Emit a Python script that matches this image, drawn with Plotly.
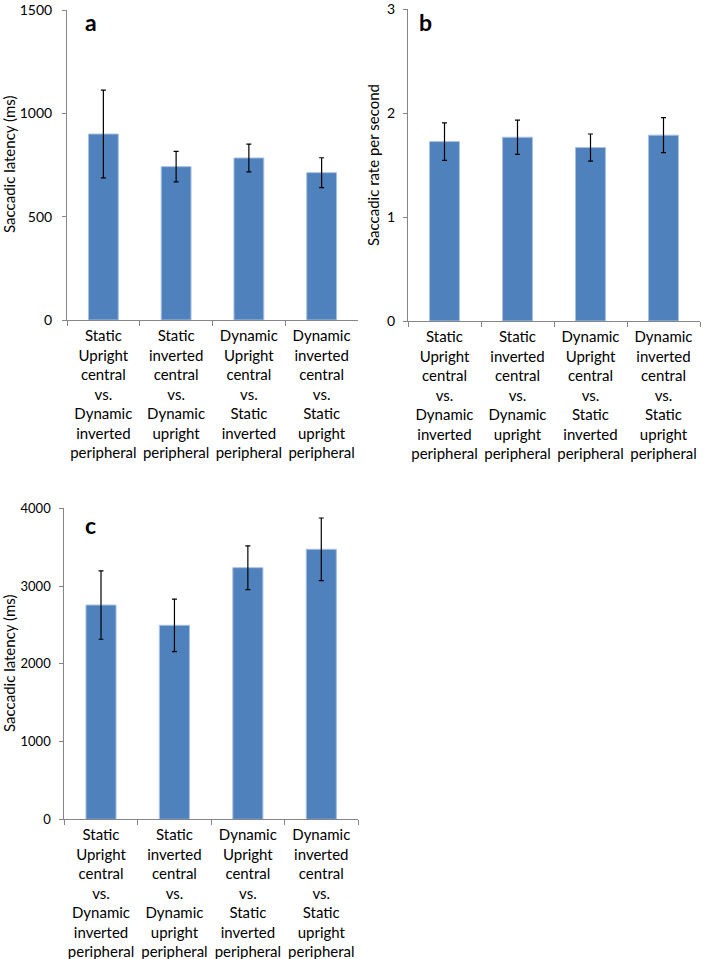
import plotly.graph_objects as go

categories = [
    "Static<br>Upright<br>central<br>vs.<br>Dynamic<br>inverted<br>peripheral",
    "Static<br>inverted<br>central<br>vs.<br>Dynamic<br>upright<br>peripheral",
    "Dynamic<br>Upright<br>central<br>vs.<br>Static<br>inverted<br>peripheral",
    "Dynamic<br>inverted<br>central<br>vs.<br>Static<br>upright<br>peripheral",
]

latency_a = [900, 742, 784, 713]
latency_a_err = [212, 74, 67, 72]
rate_b = [1.725, 1.767, 1.668, 1.787]
rate_b_err = [0.18, 0.165, 0.13, 0.168]
latency_c = [2756, 2495, 3236, 3473]
latency_c_err = [440, 338, 281, 402]

W, H = 705, 959
BAR = "#4f81bd"
AXC = "#868686"
FONT = "Lato"

def px(x):
    return x / W

def py(y):
    return 1 - y / H

fig = go.Figure()

panels = [
    ("x", "y", latency_a, latency_a_err),
    ("x2", "y2", rate_b, rate_b_err),
    ("x3", "y3", latency_c, latency_c_err),
]
for xa, ya, vals, errs in panels:
    fig.add_trace(go.Bar(
        x=categories, y=vals, xaxis=xa, yaxis=ya,
        marker=dict(color=BAR, line=dict(color="#a9c1e0", width=1)),
        width=0.41,
        error_y=dict(type="data", array=errs, visible=True,
                     color="black", thickness=1.2, width=2.5),
        showlegend=False,
    ))

def xaxis(dom, anchor, size):
    return dict(domain=dom, anchor=anchor, type="category",
                showline=True, linecolor=AXC, linewidth=1,
                ticks="outside", tickson="boundaries", ticklen=5, tickcolor=AXC,
                tickangle=0, automargin=False, ticklabelstandoff=2,
                ticklabeloverflow="allow",
                tickfont=dict(family=FONT, size=size, color="black"),
                showgrid=False, zeroline=False, fixedrange=True)

def yaxis(dom, anchor, rng, dtick, size, standoff):
    return dict(domain=dom, anchor=anchor, range=rng, dtick=dtick,
                showline=True, linecolor=AXC, linewidth=1,
                ticks="outside", ticklen=4, tickcolor=AXC, automargin=False,
                ticklabeloverflow="allow", ticklabelstandoff=standoff,
                tickfont=dict(family=FONT, size=size, color="black"),
                showgrid=False, zeroline=False, fixedrange=True)

fig.update_layout(
    width=W, height=H,
    margin=dict(l=0, r=0, t=0, b=0),
    paper_bgcolor="white", plot_bgcolor="white",
    bargap=0.59,
    xaxis=xaxis([px(67), px(358)], "y", 15),
    yaxis=yaxis([py(320), py(10)], "x", [0, 1500], 500, 14, 7),
    xaxis2=xaxis([px(408), px(700)], "y2", 15),
    yaxis2=yaxis([py(321), py(9)], "x2", [0, 3], 1, 14, 5),
    xaxis3=xaxis([px(64.3), px(358)], "y3", 15),
    yaxis3=yaxis([py(819.3), py(508.3)], "x3", [0, 4000], 1000, 13, 6),
    font=dict(family=FONT, color="black"),
)

annots = [
    dict(text="<b>a</b>", x=px(91), y=py(22), size=23),
    dict(text="<b>b</b>", x=px(425), y=py(22), size=23),
    dict(text="<b>c</b>", x=px(90), y=py(525), size=23),
]
for a in annots:
    fig.add_annotation(text=a["text"], x=a["x"], y=a["y"], xref="paper", yref="paper",
                       showarrow=False, xanchor="center", yanchor="middle",
                       font=dict(family=FONT, size=a["size"], color="black"))

titles = [
    ("Saccadic latency (ms)", 9, 165),
    ("Saccadic rate per second", 373, 165),
    ("Saccadic latency (ms)", 9, 664),
]
for t, x, y in titles:
    fig.add_annotation(text=t, x=px(x), y=py(y), xref="paper", yref="paper",
                       showarrow=False, textangle=-90, xanchor="center", yanchor="middle",
                       font=dict(family=FONT, size=15, color="black"))

fig.write_html("out.html",
               config={"displayModeBar": False},
               post_script="document.body.style.margin='0';document.body.style.overflow='hidden';")
